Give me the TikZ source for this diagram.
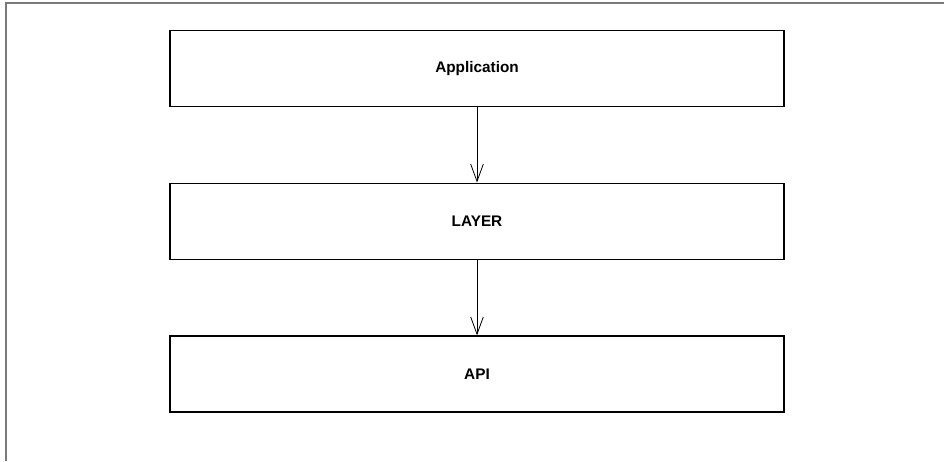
\documentclass[tikz,border=0pt]{standalone}
\usepackage{fontspec}
\setmainfont{Liberation Sans}
\usetikzlibrary{arrows.meta,positioning}
\definecolor{framegray}{HTML}{7A7A7A}

\begin{document}
\begin{tikzpicture}[
  x=0.75pt,y=-0.75pt,
  node distance=56.5pt,
  layerbox/.style={draw=black,line width=1.1pt,minimum width=460.5pt,minimum height=57pt,align=center,font=\fontsize{11.5}{13}\selectfont\bfseries,inner sep=0pt},
  arrow/.style={-{Straight Barb[length=13pt,width=9.5pt]},line width=0.6pt,black}
]
\useasboundingbox (0,0) rectangle (944,461);
% outer frame (only top and left edges show)
\draw[framegray,line width=1.5pt] (6,461) -- (6,3) -- (944,3);

\node[layerbox] (app) at (477,68.5) {Application};
\node[layerbox,below=of app] (layer) {LAYER};
\node[layerbox,below=of layer] (api) {API};

\draw[arrow] (app.south) -- (layer.north);
\draw[arrow] (layer.south) -- (api.north);
\end{tikzpicture}
\end{document}
